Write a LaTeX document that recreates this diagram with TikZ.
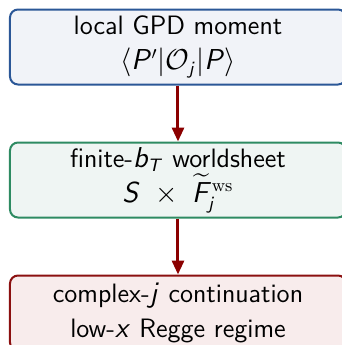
\documentclass[tikz,border=0pt]{standalone}
\usepackage{amsmath}
\usepackage{xcolor}
\usepackage{tikz}
\usetikzlibrary{arrows.meta,positioning}
% sans-serif maths, serif upright labels
\SetSymbolFont{letters}{normal}{OT1}{cmss}{m}{sl}
\SetSymbolFont{operators}{normal}{OT1}{cmss}{m}{n}
\DeclareMathAlphabet{\mathserif}{OT1}{cmr}{m}{n}
\definecolor{localc}{HTML}{2B5797}
\definecolor{localbg}{HTML}{F1F3F8}
\definecolor{sheetc}{HTML}{2E8B62}
\definecolor{sheetbg}{HTML}{EFF5F3}
\definecolor{reggec}{HTML}{8B1010}
\definecolor{reggebg}{HTML}{F8ECEC}
\definecolor{linkc}{HTML}{8B0000}
\tikzset{
  stage/.style={draw=localc,line width=1pt,rounded corners=4pt,fill=localbg,
    inner xsep=3pt,inner ysep=2pt,align=center,font=\sffamily\fontsize{13.3}{17.5}\selectfont,
    minimum width=168pt,minimum height=37.5pt},
  stageg/.style={stage,draw=sheetc,fill=sheetbg},
  stager/.style={stage,draw=reggec,fill=reggebg},
  link/.style={-{Triangle[length=7pt,width=6pt]},line width=1.5pt,draw=linkc},
}
\begin{document}
\begin{tikzpicture}[node distance=28pt]
  \useasboundingbox (0,0) rectangle (171pt,172.5pt);
  \node[stage](loc) at (89pt,149pt){local GPD moment\\$\langle P'|\mathcal{O}_j|P\rangle$};
  \node[stageg,below=of loc](ws){finite-$b_T$ worldsheet\\$S\;\times\;\widetilde{F}_j^{\mathserif{ws}}$};
  \node[stager,below=of ws](regge){complex-$j$ continuation\\low-$x$ Regge regime};
  \foreach \x/\y in {loc/ws,ws/regge} \draw[link](\x)--(\y);
\end{tikzpicture}
\end{document}
